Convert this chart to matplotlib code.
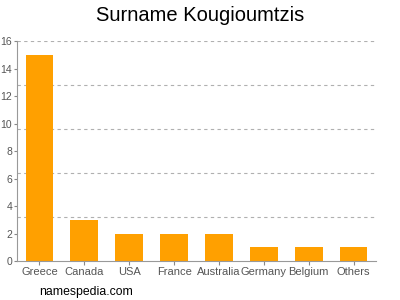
import matplotlib.pyplot as plt
import numpy as np

plt.rcParams['font.family'] = ['Liberation Sans', 'DejaVu Sans']

paises = ["Greece", "Canada", "USA", "France", "Australia", "Germany", "Belgium", "Others"]
cantidades = [15, 3, 2, 2, 2, 1, 1, 1]
marcas_y = [0, 2, 4, 6, 8, 10, 12, 14, 16]

fig = plt.figure(figsize=(4, 3), dpi=100)
ax = fig.add_axes([0.0425, 0.13, 0.8975, 0.733])

x = np.arange(len(paises))
ax.bar(x, cantidades, width=0.62, color='#FFA000', zorder=2)

for y in np.linspace(0, 16, 6)[1:]:
    ax.axhline(y, color='#b0b0b0', linestyle=(0, (3, 3)), linewidth=0.8, zorder=1)

ax.set_xlim(-0.5, len(paises) - 0.5)
ax.set_ylim(0, 16)
ax.set_xticks(x)
ax.set_xticklabels(paises)
ax.set_yticks(marcas_y)
ax.tick_params(axis='both', colors='#888888', labelcolor='#555555', length=3, width=0.8)
ax.tick_params(axis='x', labelsize=8, pad=1.5)
ax.tick_params(axis='y', labelsize=7.5, pad=1, length=2.5)

for lado in ['top', 'right']:
    ax.spines[lado].set_visible(False)
for lado in ['left', 'bottom']:
    ax.spines[lado].set_color('#999999')
    ax.spines[lado].set_linewidth(0.8)

fig.text(0.5, 0.948, "Surname Kougioumtzis", ha='center', va='center', fontsize=14.5)
fig.text(0.098, 0.027, "namespedia.com", ha='left', va='center', fontsize=8.8)

fig.savefig("out.png", dpi=100)
